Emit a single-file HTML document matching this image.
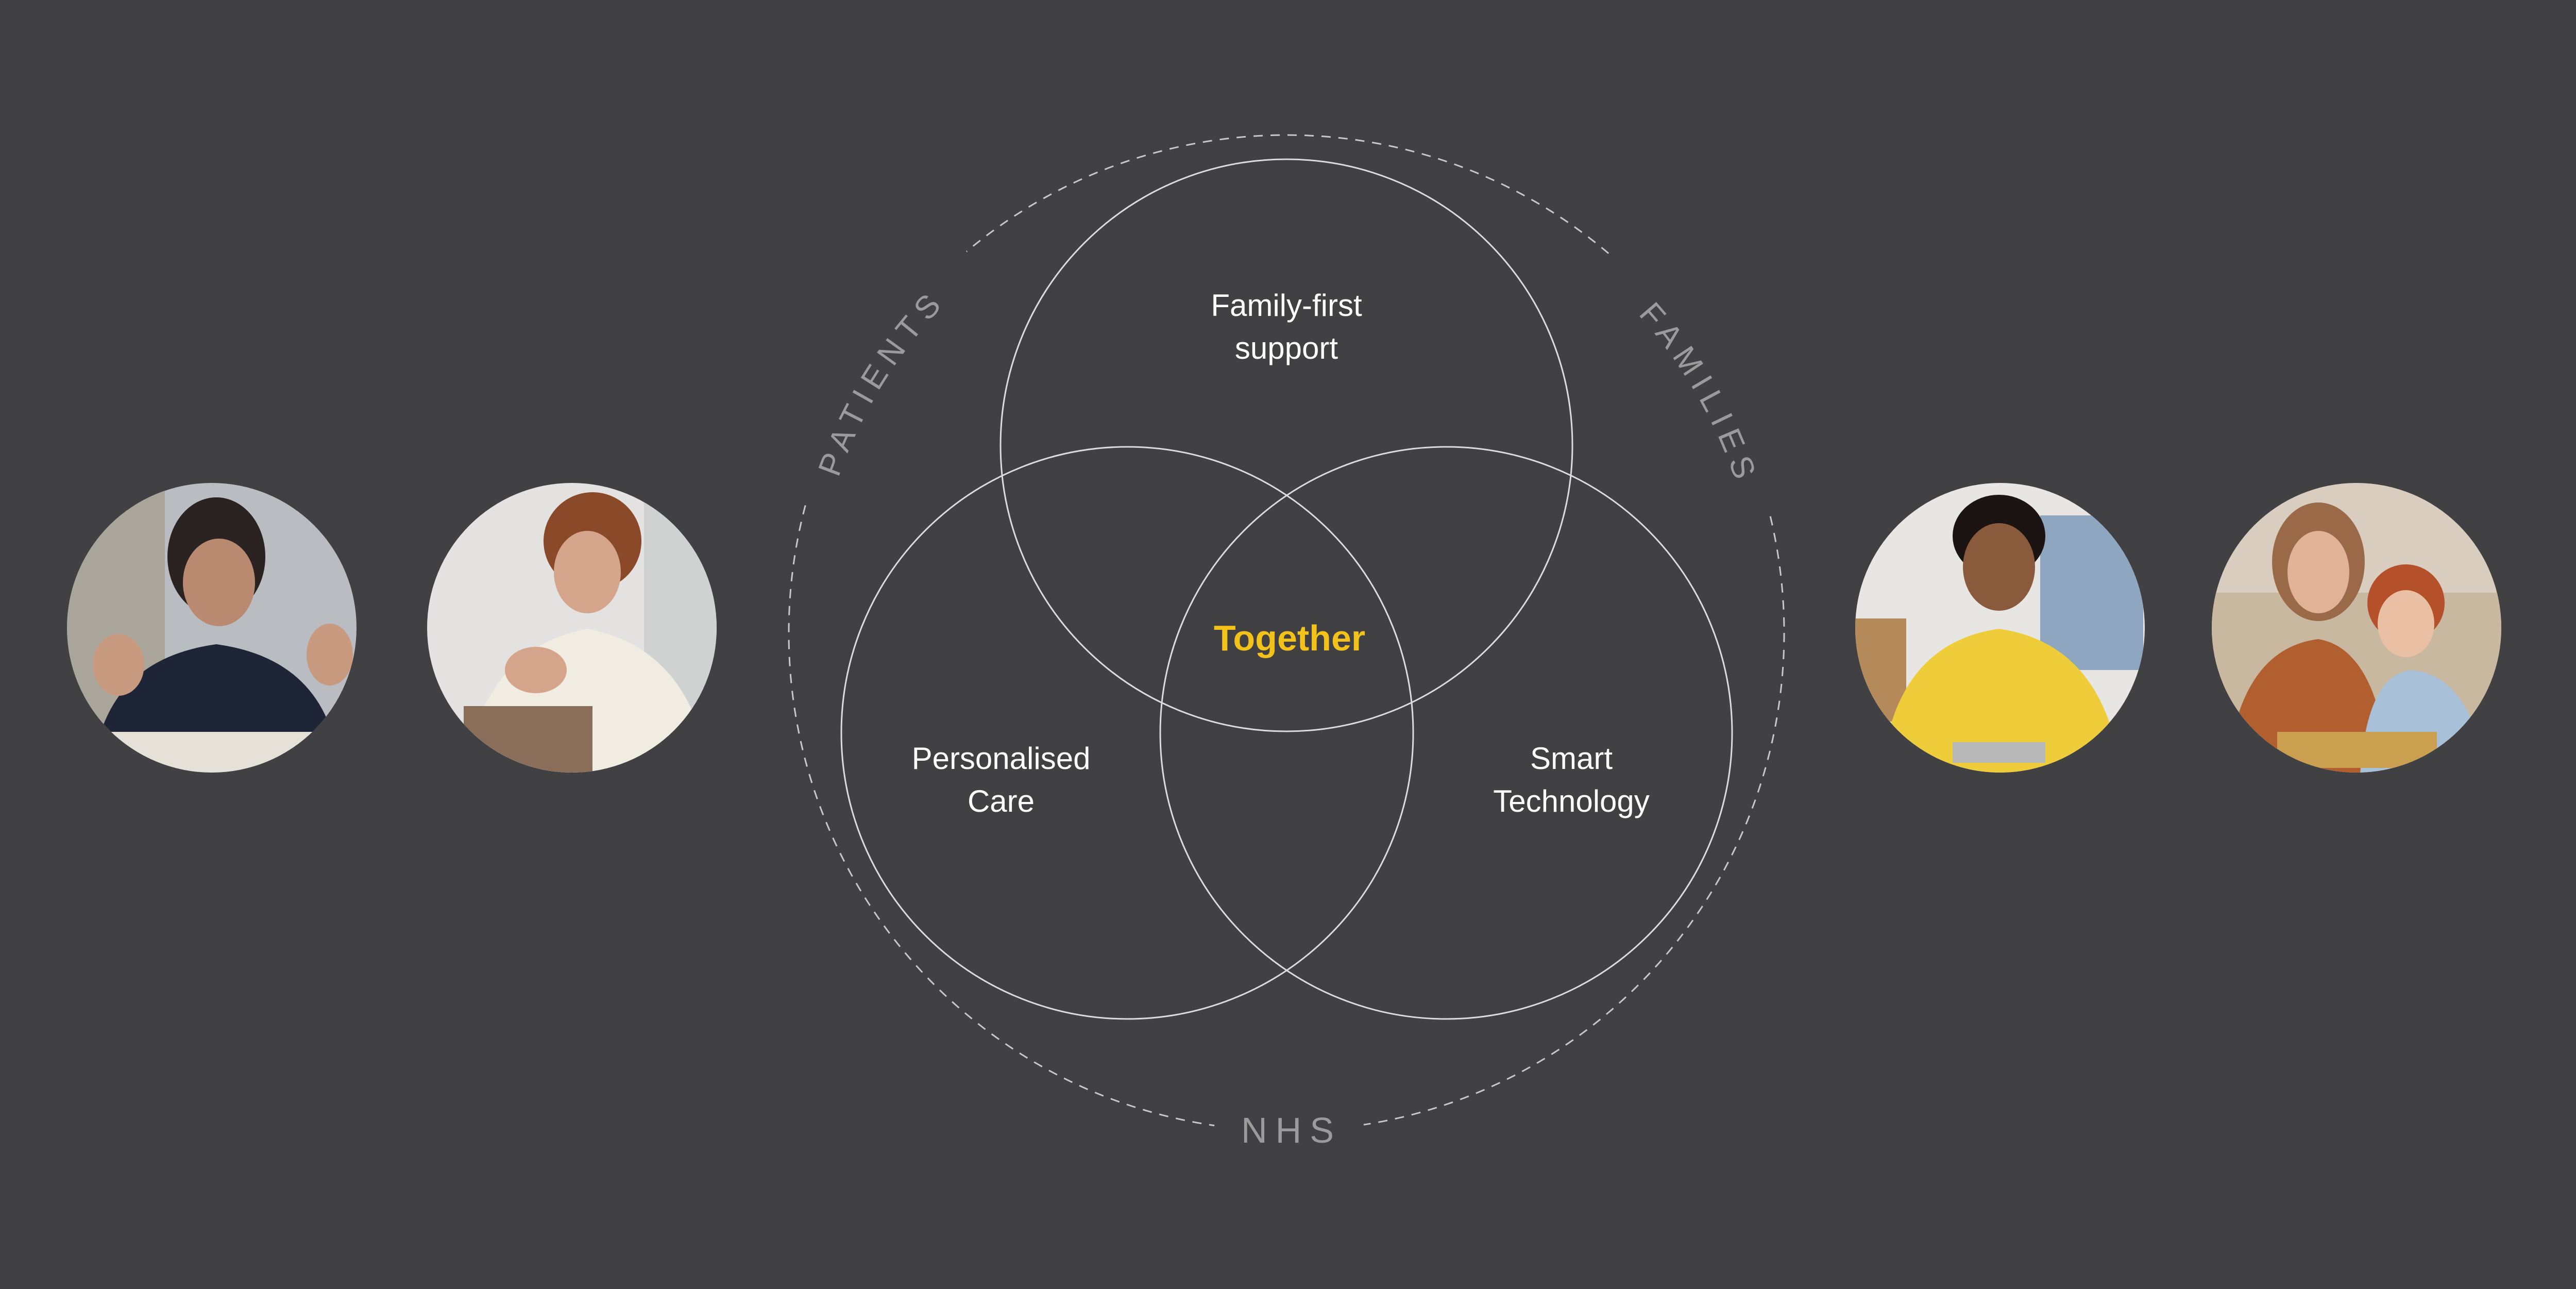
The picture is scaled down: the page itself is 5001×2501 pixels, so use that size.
<!DOCTYPE html>
<html><head><meta charset="utf-8"><style>
html,body{margin:0;padding:0;background:#414042;}
svg{display:block}
</style></head><body>
<svg width="5001" height="2501" viewBox="0 0 5001 2501" xmlns="http://www.w3.org/2000/svg">
<defs>
<path id="ring" d="M1577,1228 A920,920 0 1 1 3417,1228 A920,920 0 1 1 1577,1228"/>
<clipPath id="c1"><circle cx="411" cy="1218" r="281"/></clipPath>
<clipPath id="c2"><circle cx="1110" cy="1218" r="281"/></clipPath>
<clipPath id="c3"><circle cx="3882" cy="1218" r="281"/></clipPath>
<clipPath id="c4"><circle cx="4574" cy="1218" r="281"/></clipPath>
</defs>
<rect width="5001" height="2501" fill="#414042"/>

<!-- dashed outer ring -->
<circle cx="2497" cy="1228" r="966" fill="none" stroke="#c8c8c8" stroke-width="3" stroke-dasharray="18 15"/>
<!-- gaps -->
<g fill="none" stroke="#414042" stroke-width="24">
<path d="M1563.9,978.0 A966,966 0 0 1 1875.8,488.0"/>
<path d="M3129.0,498.2 A966,966 0 0 1 3440.3,991.1"/>
<path d="M2357,2184 A966,966 0 0 0 2647,2183"/>
</g>

<!-- venn -->
<g fill="none" stroke="#dcdcdc" stroke-width="3">
<circle cx="2497" cy="864" r="555"/>
<circle cx="2188" cy="1422" r="555"/>
<circle cx="2807" cy="1422" r="555"/>
</g>

<g font-family="'Liberation Sans', sans-serif" fill="#ffffff" font-size="60" text-anchor="middle">
<text x="2497" y="613">Family-first</text>
<text x="2497" y="696">support</text>
<text x="1943" y="1492">Personalised</text>
<text x="1943" y="1575">Care</text>
<text x="3050" y="1492">Smart</text>
<text x="3050" y="1575">Technology</text>
<text x="2503" y="1262" fill="#f2c21b" font-weight="bold" font-size="70">Together</text>
</g>

<g font-family="'Liberation Sans', sans-serif" fill="#9b9b9c" font-size="62" letter-spacing="14">
<text text-anchor="middle"><textPath href="#ring" startOffset="509">PATIENTS</textPath></text>
<text text-anchor="middle"><textPath href="#ring" startOffset="2409">FAMILIES</textPath></text>
<text x="2507" y="2217" text-anchor="middle" font-size="70" letter-spacing="16">NHS</text>
</g>

<!-- photo 1 -->
<g clip-path="url(#c1)">
<rect x="120" y="930" width="600" height="600" fill="#b9bcc0"/>
<rect x="120" y="930" width="200" height="600" fill="#a9a59a"/>
<ellipse cx="420" cy="1080" rx="95" ry="115" fill="#2a2322"/>
<ellipse cx="425" cy="1130" rx="70" ry="85" fill="#b98a70"/>
<path d="M180,1500 Q200,1280 420,1250 Q640,1280 660,1500 Z" fill="#1d2536"/>
<ellipse cx="230" cy="1290" rx="50" ry="60" fill="#c79a80"/>
<ellipse cx="640" cy="1270" rx="45" ry="60" fill="#c79a80"/>
<rect x="200" y="1420" width="420" height="120" fill="#e5e0d8"/>
</g>
<!-- photo 2 -->
<g clip-path="url(#c2)">
<rect x="820" y="930" width="600" height="600" fill="#e3e2e0"/>
<rect x="1250" y="930" width="200" height="600" fill="#cfd2d1"/>
<ellipse cx="1150" cy="1050" rx="95" ry="95" fill="#8a4a2a"/>
<ellipse cx="1140" cy="1110" rx="65" ry="80" fill="#d4a58a"/>
<path d="M900,1520 Q930,1260 1140,1220 Q1350,1260 1380,1520 Z" fill="#f1ece2"/>
<rect x="900" y="1370" width="250" height="160" fill="#8a6e5a"/>
<ellipse cx="1040" cy="1300" rx="60" ry="45" fill="#d4a58a"/>
</g>
<!-- photo 3 -->
<g clip-path="url(#c3)">
<rect x="3590" y="930" width="600" height="600" fill="#e8e6e3"/>
<rect x="3960" y="1000" width="200" height="300" fill="#8fa6c0"/>
<rect x="3590" y="1200" width="110" height="200" fill="#b58a5a"/>
<ellipse cx="3880" cy="1040" rx="90" ry="80" fill="#1b1412"/>
<ellipse cx="3880" cy="1100" rx="70" ry="85" fill="#8a5a3c"/>
<path d="M3650,1520 Q3670,1250 3880,1220 Q4090,1250 4120,1520 Z" fill="#eecc3a"/>
<rect x="3790" y="1440" width="180" height="40" fill="#b8b8b8"/>
</g>
<!-- photo 4 -->
<g clip-path="url(#c4)">
<rect x="4290" y="930" width="600" height="600" fill="#d9cdbf"/>
<rect x="4290" y="1150" width="600" height="380" fill="#c9b8a0"/>
<ellipse cx="4500" cy="1090" rx="90" ry="115" fill="#9a6a48"/>
<ellipse cx="4500" cy="1110" rx="60" ry="80" fill="#e0b296"/>
<path d="M4320,1520 Q4340,1260 4500,1240 Q4620,1260 4640,1520 Z" fill="#b25f30"/>
<ellipse cx="4670" cy="1170" rx="75" ry="75" fill="#b4502a"/>
<ellipse cx="4670" cy="1210" rx="55" ry="65" fill="#eac0a4"/>
<path d="M4580,1520 Q4590,1310 4680,1300 Q4800,1310 4830,1520 Z" fill="#a8c0d8"/>
<rect x="4420" y="1420" width="310" height="70" fill="#caa050"/>
</g>
</svg>
</body></html>
